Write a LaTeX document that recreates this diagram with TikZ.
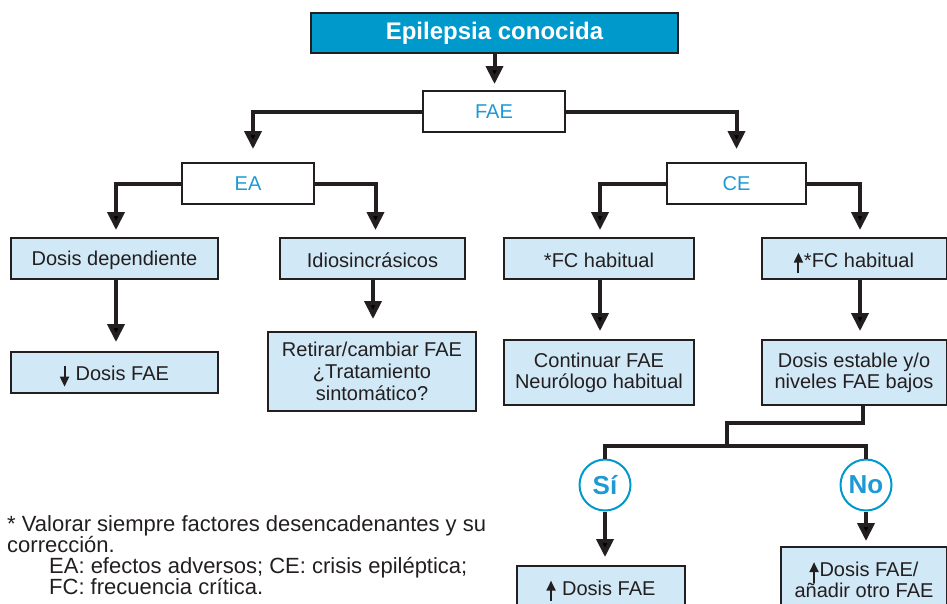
\documentclass[tikz,border=0pt]{standalone}
\usepackage{fontspec}
\setmainfont{Liberation Sans}
\usetikzlibrary{arrows.meta}
\definecolor{cyanD}{RGB}{0,153,204}
\definecolor{cyanT}{RGB}{29,154,214}
\definecolor{boxfill}{RGB}{209,232,246}
\definecolor{ink}{RGB}{35,31,32}
\newcommand{\uparr}{\smash{\tikz[baseline=0pt]\draw[ink,line width=2pt,-{Triangle[width=9pt,length=10pt]}] (0pt,-6pt) -- (0pt,14.5pt);}\hspace{1pt}}
\newcommand{\dnarr}{\smash{\tikz[baseline=0pt]\draw[ink,line width=2pt,-{Triangle[width=9pt,length=10pt]}] (0pt,14.5pt) -- (0pt,-6pt);}\hspace{1pt}}
\newcommand{\shiftt}[2]{\raisebox{#1}[\height][\depth]{#2}}
\begin{document}
\begin{tikzpicture}[x=1pt,y=-1pt,
  box/.style={draw=ink,line width=2pt,fill=boxfill,text=ink,font=\fontsize{20}{21}\selectfont,align=center,inner sep=0pt},
  wbox/.style={draw=ink,line width=2pt,fill=white,text=cyanT,font=\fontsize{20}{21}\selectfont,inner sep=0pt,minimum height=41pt},
  conn/.style={draw=ink,line width=4pt,line join=miter,-{Triangle[width=17pt,length=18pt]}},
  plain/.style={draw=ink,line width=4pt,line join=miter},
  ans/.style={circle,draw=cyanD,line width=2pt,fill=white,minimum size=51pt,inner sep=0pt,text=cyanT,font=\bfseries\fontsize{26}{26}\selectfont}]
\fill[white] (0,0) rectangle (947,603);
\useasboundingbox (0,0) rectangle (947,603);

% nodes
\node[draw=ink,line width=2pt,fill=cyanD,text=white,font=\bfseries\fontsize{24}{24}\selectfont,minimum width=367pt,minimum height=40pt,inner sep=0pt] (title) at (494.5,33) {Epilepsia conocida};
\node[wbox,minimum width=142pt] (fae) at (494,111.5) {FAE};
\node[wbox,minimum width=132pt] (ea) at (248,183.5) {EA};
\node[wbox,minimum width=139pt] (ce) at (736.5,183.5) {CE};

\node[box,minimum width=207pt,minimum height=41pt] (dd) at (114.5,258.5) {\shiftt{-1.5pt}{Dosis dependiente}};
\node[box,minimum width=185pt,minimum height=41pt] (idio) at (372.5,258.5) {\shiftt{-1.5pt}{Idiosincrásicos}};
\node[box,minimum width=190pt,minimum height=41pt] (fch) at (599,258.5) {\shiftt{-1.5pt}{*FC habitual}};
\node[box,minimum width=185pt,minimum height=41pt] (ufch) at (854,258.5) {\shiftt{-1.5pt}{\uparr*FC habitual}};

\node[box,minimum width=207pt,minimum height=41pt] (ddown) at (114.5,372.5) {\shiftt{-1pt}{\dnarr\ Dosis FAE}};
\node[box,minimum width=208pt,minimum height=79pt,font=\fontsize{20}{22}\selectfont] (ret) at (372,371.5) {\shiftt{-3pt}{\begin{tabular}{@{}c@{}}Retirar/cambiar FAE\\¿Tratamiento\\sintomático?\end{tabular}}};
\node[box,minimum width=190pt,minimum height=65pt] (cont) at (599,372.5) {Continuar FAE\\Neurólogo habitual};
\node[box,minimum width=185pt,minimum height=65pt] (dest) at (854,372.5) {Dosis estable y/o\\niveles FAE bajos};

\node[ans] (si) at (605,485) {Sí};
\node[ans] (no) at (866,485) {No};

\node[box,minimum width=168pt,minimum height=48pt] (udos) at (601,590) {\shiftt{2pt}{\uparr\ Dosis FAE}};
\node[box,minimum width=166pt,minimum height=66pt] (uadd) at (864,580) {\uparr Dosis FAE/\\añadir otro FAE};

\node[anchor=base west,inner sep=0pt,align=left,text=ink,font=\fontsize{22}{21}\selectfont] (note) at (7,594)
  {* Valorar siempre factores desencadenantes y su\\corrección.\\\hspace*{42pt}EA: efectos adversos; CE: crisis epiléptica;\\\hspace*{42pt}FC: frecuencia crítica.};

% connectors
\draw[conn,shorten >=6pt] (title.south) -- (title.south |- fae.north);
\draw[conn,shorten >=13pt] (fae.west) -| ([xshift=5pt]ea.north);
\draw[conn,shorten >=13pt] (fae.east) -| (ce.north);
\draw[conn,shorten >=7pt] (ea.west) -| ([xshift=1.5pt]dd.north);
\draw[conn,shorten >=7pt] (ea.east) -| ([xshift=3pt]idio.north);
\draw[conn,shorten >=7pt] (ce.west) -| ([xshift=1pt]fch.north);
\draw[conn,shorten >=7pt] (ce.east) -| ([xshift=6pt]ufch.north);

\draw[conn,shorten >=9pt] ([xshift=1.5pt]dd.south) -- ([xshift=1.5pt]ddown.north);
\draw[conn,shorten >=12pt] ([xshift=0.5pt]idio.south) -- ([xshift=0.5pt]idio.south |- ret.north);
\draw[conn,shorten >=8pt] ([xshift=1pt]fch.south) -- ([xshift=1pt]cont.north);
\draw[conn,shorten >=8pt] ([xshift=6pt]ufch.south) -- ([xshift=6pt]dest.north);

\coordinate (j1) at (727,423);
\coordinate (j) at (727,446);
\draw[plain] ([xshift=9pt]dest.south) |- (j1) -- (j);
\draw[plain] (si.north) |- (j) -| (no.north);
\draw[conn,shorten >=8pt] (si.south) -- (si.south |- udos.north);
\draw[conn,shorten >=5pt] (no.south) -- (no.south |- uadd.north);
\end{tikzpicture}
\end{document}
